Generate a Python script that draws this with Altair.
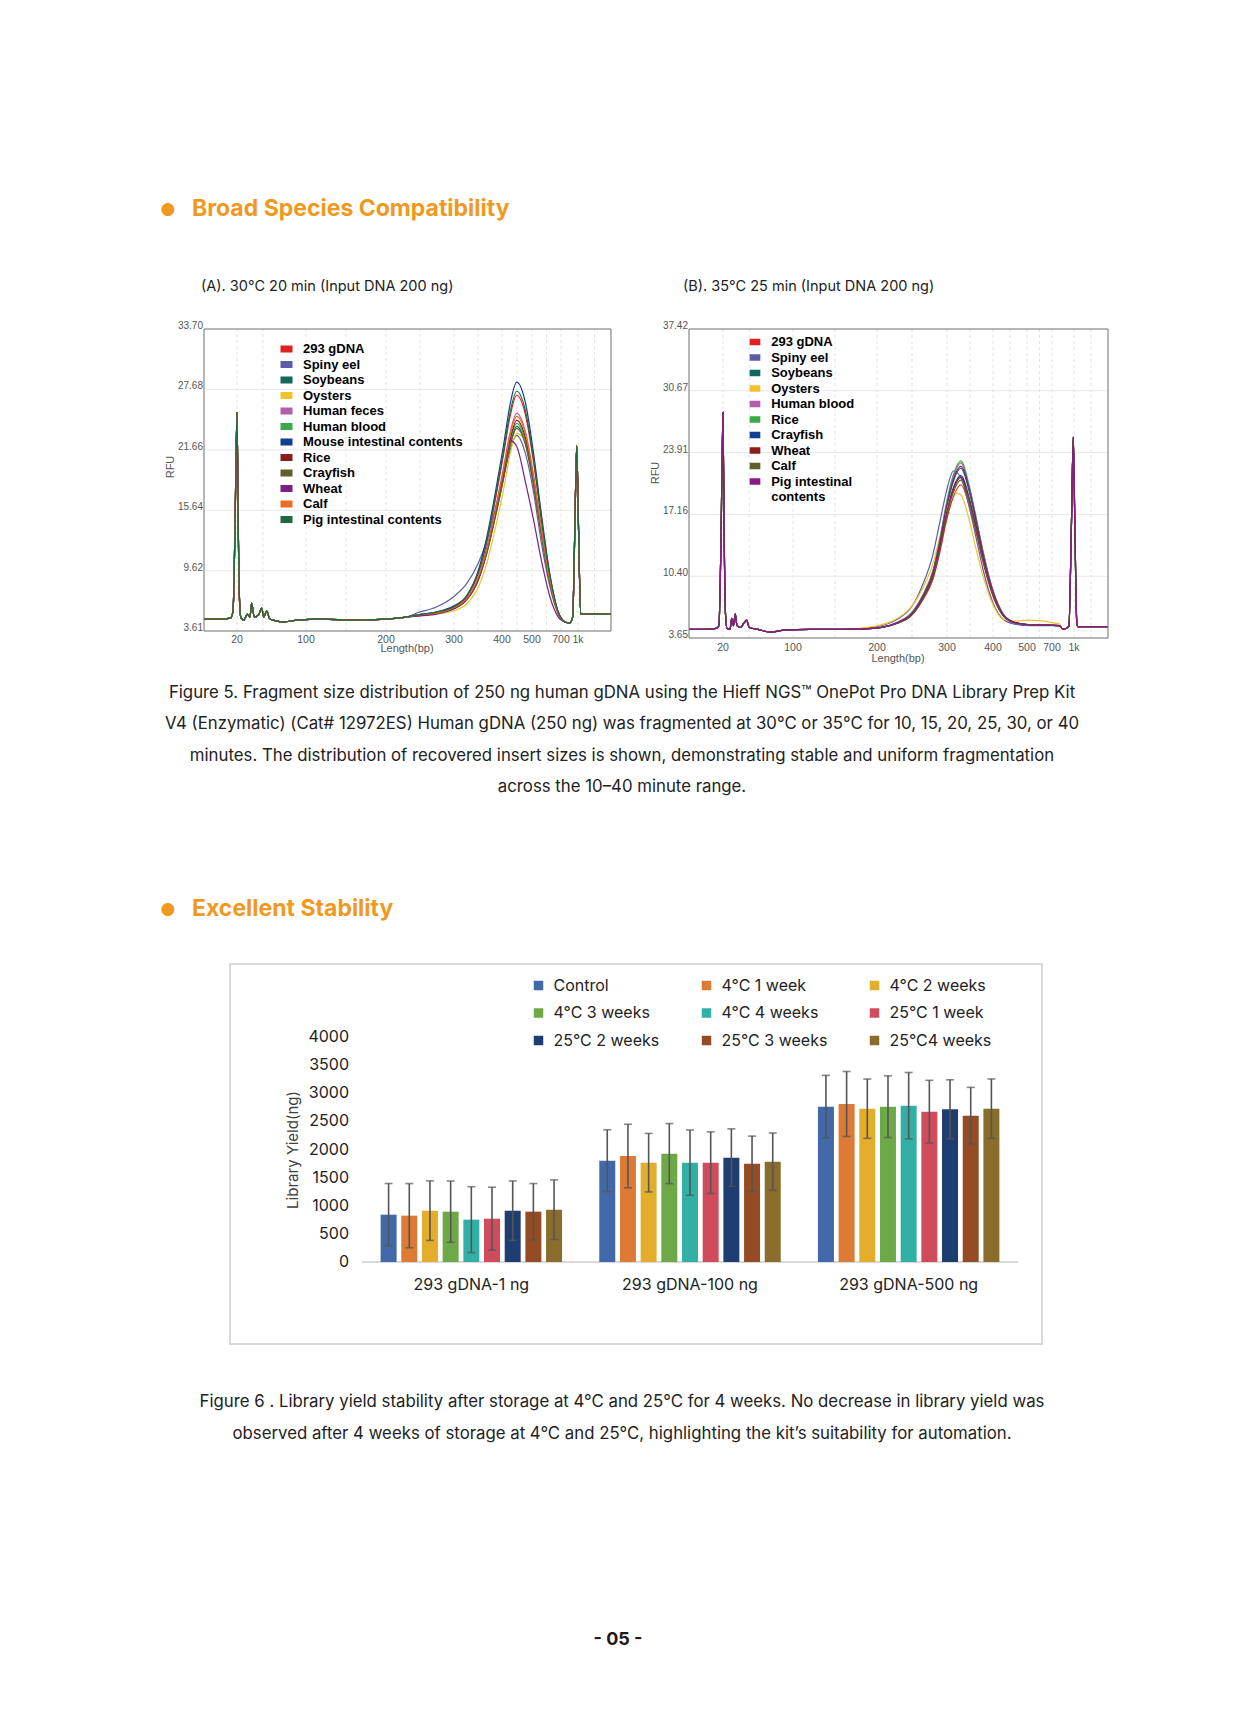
import altair as alt
import pandas as pd

W, H = 1244, 1705
PAGE_FONT = "Inter"
PLOT_FONT = "Liberation Sans"
ORANGE = "#F0991E"
INK = "#222222"
GREY = "#555555"

# ---------------- page text ----------------
heading_1 = "Broad Species Compatibility"
heading_2 = "Excellent Stability"
subtitle_a = "(A). 30°C 20 min (Input DNA 200 ng)"
subtitle_b = "(B). 35°C 25 min (Input DNA 200 ng)"
caption_5 = [
    "Figure 5. Fragment size distribution of 250 ng human gDNA using the Hieff NGS™ OnePot Pro DNA Library Prep Kit",
    "V4 (Enzymatic) (Cat# 12972ES) Human gDNA (250 ng) was fragmented at 30°C or 35°C for 10, 15, 20, 25, 30, or 40",
    "minutes. The distribution of recovered insert sizes is shown, demonstrating stable and uniform fragmentation",
    "across the 10–40 minute range.",
]
caption_6 = [
    "Figure 6 . Library yield stability after storage at 4°C and 25°C for 4 weeks. No decrease in library yield was",
    "observed after 4 weeks of storage at 4°C and 25°C, highlighting the kit’s suitability for automation.",
]
page_number = "- 05 -"

# ---------------- electropherogram size axis ----------------
bp_breaks = [0, 20, 100, 200, 300, 400, 500, 700, 1000, 2000]
bp_ticks = [20, 100, 200, 300, 400, 500, 700, 1000]
bp_tick_labels = ["20", "100", "200", "300", "400", "500", "700", "1k"]
bp_grid = [20, 50, 100, 150, 200, 250, 300, 350, 400, 450, 500, 600, 700, 1000, 1500]

# ---------------- Figure 5A ----------------
a_series = ["293 gDNA", "Spiny eel", "Soybeans", "Oysters", "Human feces", "Human blood",
            "Mouse  intestinal contents", "Rice", "Crayfish", "Wheat", "Calf",
            "Pig intestinal contents"]
a_colors = ["#E0201E", "#5B5EA6", "#13675F", "#F2C12E", "#B15FA8", "#3DAA4A",
            "#123F8F", "#8C1D1D", "#5F5F2A", "#7A1E84", "#EA6E1E", "#1D6B3C"]
a_yticks = [3.61, 9.62, 15.64, 21.66, 27.68, 33.70]
a_left_bp = [0, 10, 16, 17.6, 18.8, 20, 21.3, 23, 24.6, 28, 32, 35, 37, 40, 45, 48.6, 51,
             54.4, 58, 62, 73, 90, 120, 160, 200, 230]
a_left_rfu = [4.8, 4.8, 4.9, 5.6, 14.0, 25.4, 15.0, 6.5, 4.9, 4.7, 5.3, 5.0, 6.4, 5.0, 5.2,
              5.9, 5.0, 5.6, 4.8, 4.7, 4.5, 4.7, 4.8, 4.7, 4.8, 5.0]
a_peak_bp = [245, 274, 299, 326, 351, 368, 385, 404, 427, 449, 477, 509, 567, 624, 681, 771]
a_peaks = {
    "293 gDNA": [5.2, 5.5, 6.0, 7.0, 9.4, 12.4, 16.4, 21.0, 25.0, 27.1, 25.3, 20.6, 14.4, 9.0, 5.5, 4.5],
    "Spiny eel": [5.4, 6.0, 7.0, 8.3, 10.4, 12.6, 15.6, 18.8, 21.6, 23.1, 21.4, 17.6, 12.2, 8.0, 5.3, 4.5],
    "Soybeans": [5.1, 5.4, 5.8, 6.7, 8.8, 11.3, 14.8, 18.7, 22.2, 24.0, 22.4, 18.4, 13.1, 8.4, 5.4, 4.5],
    "Oysters": [5.1, 5.3, 5.6, 6.3, 8.0, 10.3, 13.6, 17.5, 21.2, 23.3, 22.6, 18.9, 13.4, 8.6, 5.5, 4.5],
    "Human feces": [5.2, 5.4, 5.9, 6.8, 9.0, 11.8, 15.5, 19.7, 23.4, 25.3, 23.6, 19.3, 13.6, 8.7, 5.4, 4.5],
    "Human blood": [5.2, 5.4, 5.9, 6.7, 8.8, 11.5, 14.9, 19.0, 22.5, 24.3, 22.7, 18.6, 13.2, 8.5, 5.4, 4.5],
    "Mouse  intestinal contents": [5.2, 5.5, 6.1, 7.1, 9.7, 12.9, 17.1, 21.9, 26.2, 28.4, 26.5, 21.5, 15.0, 9.2, 5.5, 4.5],
    "Rice": [5.2, 5.4, 5.9, 6.8, 8.9, 11.6, 15.1, 19.2, 22.7, 24.6, 23.0, 18.8, 13.3, 8.5, 5.4, 4.5],
    "Crayfish": [5.1, 5.4, 5.8, 6.7, 8.7, 11.3, 14.7, 18.6, 22.0, 23.8, 22.3, 18.3, 13.0, 8.4, 5.4, 4.5],
    "Wheat": [5.1, 5.3, 5.8, 6.7, 8.8, 11.6, 15.2, 19.2, 22.6, 22.0, 18.6, 14.8, 10.5, 7.0, 5.0, 4.5],
    "Calf": [5.2, 5.4, 5.9, 6.8, 9.0, 11.7, 15.3, 19.5, 23.1, 25.0, 23.4, 19.1, 13.5, 8.6, 5.4, 4.5],
    "Pig intestinal contents": [5.2, 5.5, 6.0, 7.1, 9.5, 12.5, 16.6, 21.3, 25.4, 27.5, 25.7, 20.9, 14.6, 9.1, 5.5, 4.5],
}
a_right_bp = [850, 906, 945, 977, 1015, 1082, 1200, 1500, 2000]
a_right_rfu = [4.4, 5.0, 14.0, 22.1, 14.0, 5.3, 5.3, 5.3, 5.3]

# ---------------- Figure 5B ----------------
b_series = ["293 gDNA", "Spiny eel", "Soybeans", "Oysters", "Human blood", "Rice",
            "Crayfish", "Wheat", "Calf", "Pig intestinal contents"]
b_colors = ["#E0201E", "#5B5EA6", "#13675F", "#F2C12E", "#B15FA8", "#3DAA4A",
            "#123F8F", "#8C1D1D", "#5F5F2A", "#8A1A8A"]
b_yticks = [3.65, 10.40, 17.16, 23.91, 30.67, 37.42]
b_left_bp = [0, 10, 16, 17.6, 18.8, 20, 21.3, 23, 24.6, 28, 30, 32, 34, 36, 40, 44, 47, 50,
             60, 74, 90, 120, 160]
b_left_rfu = [4.6, 4.6, 4.7, 5.0, 14.0, 28.3, 15.0, 6.0, 4.7, 4.6, 5.8, 5.0, 6.3, 5.0, 4.8,
              5.3, 5.6, 4.8, 4.6, 4.3, 4.5, 4.6, 4.6]
b_peak_bp = [195, 242, 266, 280, 290, 299, 314, 330, 350, 365, 379, 401, 430, 460, 520, 800]
b_peaks = {
    "293 gDNA": [4.7, 5.7, 7.9, 10.1, 13.1, 16.4, 19.1, 20.4, 17.8, 14.8, 11.8, 8.1, 6.1, 5.3, 5.1, 5.0],
    "Spiny eel": [4.8, 6.4, 9.6, 12.8, 16.4, 19.6, 21.9, 21.2, 17.6, 14.2, 11.0, 7.4, 5.7, 5.2, 5.0, 5.0],
    "Soybeans": [4.7, 5.8, 8.2, 10.8, 14.1, 17.7, 20.8, 22.2, 19.3, 15.9, 12.6, 8.5, 6.2, 5.4, 5.1, 5.0],
    "Oysters": [4.9, 6.5, 9.2, 11.8, 14.8, 17.5, 19.6, 19.3, 16.2, 13.0, 10.3, 7.2, 5.7, 5.5, 5.6, 5.2],
    "Human blood": [4.7, 5.9, 8.4, 11.0, 14.4, 18.2, 21.3, 22.8, 19.8, 16.3, 12.9, 8.7, 6.3, 5.4, 5.1, 5.0],
    "Rice": [4.7, 5.9, 8.4, 11.0, 14.5, 18.3, 21.5, 23.0, 19.9, 16.4, 13.0, 8.7, 6.3, 5.4, 5.1, 5.0],
    "Crayfish": [4.7, 5.8, 8.1, 10.5, 13.7, 17.1, 20.1, 21.4, 18.6, 15.4, 12.2, 8.4, 6.1, 5.4, 5.1, 5.0],
    "Wheat": [4.7, 5.7, 8.0, 10.4, 13.6, 17.0, 19.9, 21.2, 18.4, 15.3, 12.1, 8.3, 6.1, 5.4, 5.1, 5.0],
    "Calf": [4.7, 5.7, 8.0, 10.3, 13.4, 16.8, 19.6, 20.9, 18.2, 15.1, 12.0, 8.3, 6.1, 5.4, 5.1, 5.0],
    "Pig intestinal contents": [4.7, 5.8, 8.3, 10.8, 14.2, 17.9, 21.0, 22.4, 19.6, 16.1, 12.7, 8.6, 6.2, 5.4, 5.1, 5.0],
}
b_right_bp = [850, 930, 965, 990, 1025, 1080, 1110, 1500, 2000]
b_right_rfu = [4.6, 4.9, 16.0, 25.6, 16.0, 5.5, 4.9, 4.9, 4.9]

# ---------------- Figure 6 ----------------
groups = ["293 gDNA-1 ng", "293 gDNA-100 ng", "293 gDNA-500 ng"]
conditions = ["Control", "4°C 1 week", "4°C 2 weeks", "4°C 3 weeks", "4°C 4 weeks",
              "25°C 1 week", "25°C 2 weeks", "25°C 3 weeks", "25°C4 weeks"]
bar_colors = ["#4169AA", "#DC7A36", "#E2AE2B", "#6DAA47", "#33B0A5", "#D04B5B",
              "#1E3D71", "#954B23", "#8A6D2A"]
yield_1ng = [841, 824, 913, 895, 753, 770, 913, 895, 930]
yield_100ng = [1801, 1884, 1766, 1926, 1766, 1766, 1855, 1748, 1784]
yield_500ng = [2761, 2809, 2726, 2761, 2779, 2673, 2714, 2602, 2726]
err_1ng = [555, 570, 530, 545, 585, 560, 528, 500, 530]
err_100ng = [550, 565, 520, 535, 580, 548, 512, 490, 510]
err_500ng = [557, 578, 527, 548, 590, 557, 525, 503, 528]
yield_ticks = [0, 500, 1000, 1500, 2000, 2500, 3000, 3500, 4000]


def text_mark(s, x, y, size, weight="normal", color=INK, align="left", font=PAGE_FONT, angle=0):
    return alt.Chart(pd.DataFrame({"t": [s]})).mark_text(
        align=align, baseline="middle", fontSize=size, fontWeight=weight,
        color=color, font=font, angle=angle,
    ).encode(text="t:N", x=alt.value(x), y=alt.value(y))


def electro(series, colors, left_bp, left_rfu, peak_bp, peaks, right_bp, right_rfu,
            x_range, y_dom, y_range, y_ticks, ylab_x, xlab_y, len_title, rfu_title,
            legend):
    rows = []
    for s in series:
        bps = left_bp + peak_bp + right_bp
        vals = left_rfu + peaks[s] + right_rfu
        rows += [{"sample": s, "bp": b, "rfu": v} for b, v in zip(bps, vals)]
    df = pd.DataFrame(rows)
    xs = alt.Scale(domain=bp_breaks, range=x_range, zero=False, nice=False)
    ys = alt.Scale(domain=y_dom, range=y_range, zero=False, nice=False)
    cscale = alt.Scale(domain=series, range=colors)

    vgrid = alt.Chart(pd.DataFrame({"bp": bp_grid, "lo": y_dom[0], "hi": y_dom[1]})).mark_rule(
        color="#E3E3E3", strokeDash=[3, 3], strokeWidth=1
    ).encode(x=alt.X("bp:Q", scale=xs, axis=None),
             y=alt.Y("lo:Q", scale=ys, axis=None), y2="hi:Q")
    hgrid = alt.Chart(pd.DataFrame({"v": y_ticks[1:-1], "l": bp_breaks[0], "r": bp_breaks[-1]})).mark_rule(
        color="#E8E8E8", strokeWidth=1
    ).encode(y=alt.Y("v:Q", scale=ys, axis=None),
             x=alt.X("l:Q", scale=xs, axis=None), x2="r:Q")
    lines = alt.Chart(df).mark_line(interpolate="monotone").encode(
        x=alt.X("bp:Q", scale=xs, axis=None),
        y=alt.Y("rfu:Q", scale=ys, axis=None),
        color=alt.Color("sample:N", scale=cscale, legend=legend),
        strokeWidth=alt.value(1.2),
    )
    border = alt.Chart(pd.DataFrame({"l": [bp_breaks[0]], "r": [bp_breaks[-1]],
                                     "lo": [y_dom[0]], "hi": [y_dom[1]]})).mark_rect(
        fillOpacity=0, stroke="#6E6E6E", strokeWidth=1
    ).encode(x=alt.X("l:Q", scale=xs, axis=None), x2="r:Q",
             y=alt.Y("lo:Q", scale=ys, axis=None), y2="hi:Q")
    ylabels = alt.Chart(pd.DataFrame({"v": y_ticks})).mark_text(
        align="right", baseline="alphabetic", font=PLOT_FONT, fontSize=10, color=GREY
    ).encode(y=alt.Y("v:Q", scale=ys, axis=None), x=alt.value(ylab_x),
             text=alt.Text("v:Q", format=".2f"))
    xlabels = alt.Chart(pd.DataFrame({"bp": bp_ticks, "lab": bp_tick_labels})).mark_text(
        align="center", baseline="middle", font=PLOT_FONT, fontSize=10.5, color=GREY
    ).encode(x=alt.X("bp:Q", scale=xs, axis=None), y=alt.value(xlab_y), text="lab:N")
    t_len = text_mark("Length(bp)", len_title[0], len_title[1], 11, color=GREY,
                      align="center", font=PLOT_FONT)
    t_rfu = text_mark("RFU", rfu_title[0], rfu_title[1], 11, color=GREY,
                      align="center", font=PLOT_FONT, angle=270)
    return alt.layer(vgrid, hgrid, lines, border, ylabels, xlabels, t_len, t_rfu)


legend_a = alt.Legend(
    orient="none", legendX=271.5, legendY=334, title=None, padding=0,
    symbolType="M-1,-0.43H1M-1,-0.215H1M-1,0H1M-1,0.215H1M-1,0.43H1",
    symbolSize=144, symbolStrokeWidth=1.8, labelOffset=9.5, rowPadding=1.5,
    labelFont=PLOT_FONT, labelFontSize=13, labelFontWeight="bold",
    labelColor="#000000", labelLimit=400,
)
legend_b = alt.Legend(
    orient="none", legendX=740.5, legendY=327.5, title=None, padding=0,
    symbolType="M-1,-0.46H1M-1,-0.23H1M-1,0H1M-1,0.23H1M-1,0.46H1",
    symbolSize=114, symbolStrokeWidth=1.8, labelOffset=9.7, rowPadding=1.5,
    labelFont=PLOT_FONT, labelFontSize=13, labelFontWeight="bold",
    labelColor="#000000", labelLimit=400,
    labelExpr="datum.label == 'Pig intestinal contents' ? ['Pig intestinal', 'contents'] : datum.label",
)

chart_a = electro(a_series, a_colors, a_left_bp, a_left_rfu, a_peak_bp, a_peaks,
                  a_right_bp, a_right_rfu,
                  x_range=[196, 229, 298, 378, 446, 494, 524, 553, 570, 603],
                  y_dom=[3.61, 33.70], y_range=[623, 321], y_ticks=a_yticks,
                  ylab_x=195, xlab_y=632, len_title=(399, 641), rfu_title=(163, 459),
                  legend=legend_a)
chart_b = electro(b_series, b_colors, b_left_bp, b_left_rfu, b_peak_bp, b_peaks,
                  b_right_bp, b_right_rfu,
                  x_range=[681, 715, 785, 869, 939, 985, 1019, 1044, 1066, 1100],
                  y_dom=[3.65, 37.42], y_range=[630, 321], y_ticks=b_yticks,
                  ylab_x=680, xlab_y=640, len_title=(890, 651), rfu_title=(648, 465),
                  legend=legend_b)

# ---------------- bar chart ----------------
bar_rows = []
for g, ys_, es_ in zip(groups, [yield_1ng, yield_100ng, yield_500ng],
                       [err_1ng, err_100ng, err_500ng]):
    for c, v, e in zip(conditions, ys_, es_):
        bar_rows.append({"group": g, "cond": c, "yield": v, "lo": v - e, "hi": v + e})
bar_df = pd.DataFrame(bar_rows)

gx = alt.Scale(domain=groups, range=[354, 1010], paddingInner=0, paddingOuter=0)
gxo = alt.Scale(domain=conditions, paddingInner=0.227, paddingOuter=0.9)
gy = alt.Scale(domain=[0, 4000], range=[1254, 1029], zero=False, nice=False)

bar_legend = alt.Legend(
    orient="none", legendX=522.5, legendY=969.5, title=None, padding=0, columns=3,
    direction="horizontal", gridAlign="all", columnPadding=39, rowPadding=11.5,
    symbolType="square", symbolSize=90, symbolStrokeWidth=0, labelOffset=7,
    labelFont=PAGE_FONT, labelFontSize=16, labelColor=INK, labelLimit=300,
)
bbase = alt.Chart(bar_df)
bars = bbase.mark_bar().encode(
    x=alt.X("group:N", scale=gx, axis=None, sort=groups),
    xOffset=alt.XOffset("cond:N", scale=gxo, sort=conditions),
    y=alt.Y("yield:Q", scale=gy, axis=None),
    color=alt.Color("cond:N", scale=alt.Scale(domain=conditions, range=bar_colors),
                    legend=bar_legend),
)
err = bbase.mark_rule(color=GREY, strokeWidth=1.6).encode(
    x=alt.X("group:N", scale=gx, axis=None, sort=groups),
    xOffset=alt.XOffset("cond:N", scale=gxo, sort=conditions),
    y=alt.Y("lo:Q", scale=gy, axis=None), y2="hi:Q",
)
cap_lo = bbase.mark_tick(color=GREY, size=8, thickness=1.6, orient="horizontal").encode(
    x=alt.X("group:N", scale=gx, axis=None, sort=groups),
    xOffset=alt.XOffset("cond:N", scale=gxo, sort=conditions),
    y=alt.Y("lo:Q", scale=gy, axis=None),
)
cap_hi = bbase.mark_tick(color=GREY, size=8, thickness=1.6, orient="horizontal").encode(
    x=alt.X("group:N", scale=gx, axis=None, sort=groups),
    xOffset=alt.XOffset("cond:N", scale=gxo, sort=conditions),
    y=alt.Y("hi:Q", scale=gy, axis=None),
)
baseline = alt.Chart(pd.DataFrame({"v": [0]})).mark_rule(color="#D9D9D9", strokeWidth=2).encode(
    y=alt.Y("v:Q", scale=gy, axis=None), x=alt.value(354), x2=alt.value(1010)
)
bar_ylabels = alt.Chart(pd.DataFrame({"v": yield_ticks})).mark_text(
    align="right", baseline="middle", font=PAGE_FONT, fontSize=16, color=INK
).encode(y=alt.Y("v:Q", scale=gy, axis=None), x=alt.value(341), text=alt.Text("v:Q", format="d"))
bar_xlabels = alt.Chart(pd.DataFrame({"group": groups})).mark_text(
    align="center", baseline="middle", font=PAGE_FONT, fontSize=16, color=INK
).encode(x=alt.X("group:N", scale=gx, axis=None, sort=groups), y=alt.value(1277), text="group:N")
bar_title = text_mark("Library Yield(ng)", 285, 1142, 15, color="#404040", align="center", angle=270)
bar_chart = alt.layer(baseline, bars, err, cap_lo, cap_hi, bar_ylabels, bar_xlabels, bar_title)

frame = alt.Chart(pd.DataFrame({"k": [0]})).mark_rect(
    fillOpacity=0, stroke="#D9D9D9", strokeWidth=2
).encode(x=alt.value(222), x2=alt.value(1034), y=alt.value(956), y2=alt.value(1336))

# ---------------- page text layers ----------------
texts = [
    text_mark("●", 160, 201, 17, color=ORANGE, align="center", font="DejaVu Sans"),
    text_mark(heading_1, 184, 201, 23, weight="bold", color=ORANGE),
    text_mark(subtitle_a, 193, 279, 14.5),
    text_mark(subtitle_b, 675, 279, 14.5),
    text_mark("●", 160, 901, 17, color=ORANGE, align="center", font="DejaVu Sans"),
    text_mark(heading_2, 184, 901, 23, weight="bold", color=ORANGE),
    text_mark(page_number, 610, 1632, 18, weight="bold", color="#231815", align="center"),
]
for line, y in zip(caption_5, [685, 716, 748, 779]):
    texts.append(text_mark(line, 614, y, 16.8, align="center"))
for line, y in zip(caption_6, [1393.5, 1425.5]):
    texts.append(text_mark(line, 614, y, 16.8, align="center"))

chart = alt.layer(frame, chart_a, chart_b, bar_chart, *texts).resolve_scale(
    x="independent", y="independent", color="independent", xOffset="independent"
).properties(
    width=W, height=H, padding=0,
    autosize=alt.AutoSizeParams(type="none"),
).configure_view(stroke=None)

chart.save("out.html", embed_options={"renderer": "svg", "actions": False})
